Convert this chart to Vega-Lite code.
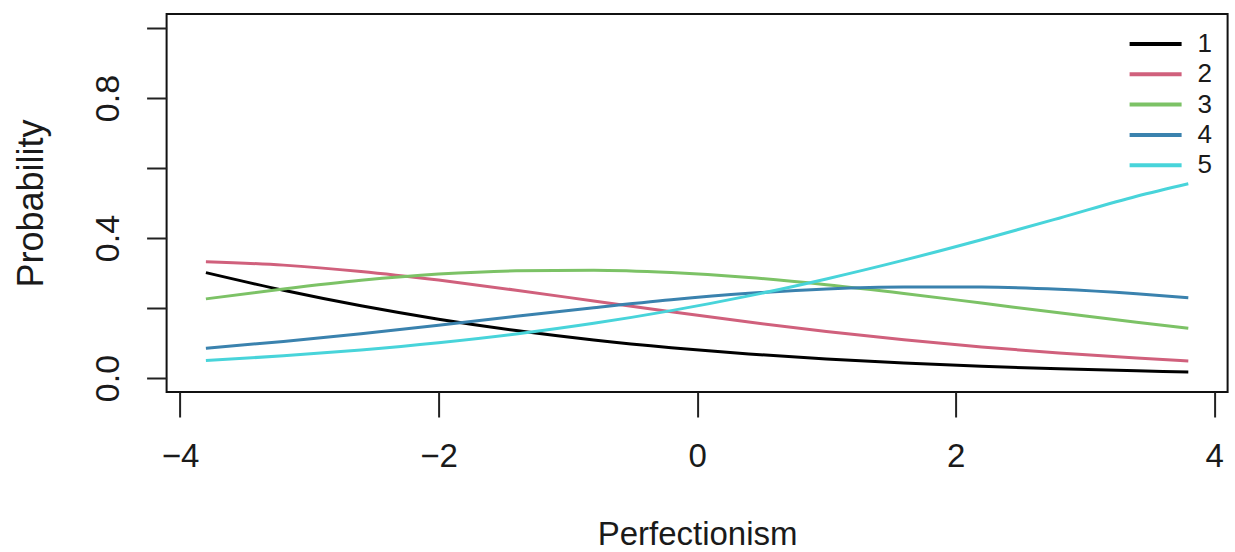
{
  "$schema": "https://vega.github.io/schema/vega-lite/v6.json",
  "width": 1061,
  "height": 378,
  "autosize": "none",
  "padding": {"left": 166.6, "top": 14, "right": 7.4, "bottom": 160},
  "background": "white",
  "config": {
    "view": {"stroke": "#111111", "strokeWidth": 2},
    "font": "Liberation Sans",
    "axis": {"grid": false, "domain": false, "tickColor": "#222222", "tickWidth": 2, "labelColor": "#1a1a1a", "titleColor": "#1a1a1a", "titleFontWeight": "normal"},
    "legend": {"padding": 0}
  },
  "data": {
    "values": [
      {"x": -3.8, "p": 0.301, "k": "1"}, {"x": -3.2, "p": 0.2505, "k": "1"}, {"x": -2.6, "p": 0.2062, "k": "1"}, {"x": -2.0, "p": 0.168, "k": "1"}, {"x": -1.4, "p": 0.1356, "k": "1"}, {"x": -0.8, "p": 0.1087, "k": "1"}, {"x": -0.2, "p": 0.0866, "k": "1"}, {"x": 0.4, "p": 0.0686, "k": "1"}, {"x": 1.0, "p": 0.0542, "k": "1"}, {"x": 1.6, "p": 0.0426, "k": "1"}, {"x": 2.2, "p": 0.0334, "k": "1"}, {"x": 2.8, "p": 0.0262, "k": "1"}, {"x": 3.4, "p": 0.0205, "k": "1"}, {"x": 3.8, "p": 0.0174, "k": "1"},
      {"x": -3.8, "p": 0.3325, "k": "2"}, {"x": -3.2, "p": 0.3225, "k": "2"}, {"x": -2.6, "p": 0.3043, "k": "2"}, {"x": -2.0, "p": 0.2797, "k": "2"}, {"x": -1.4, "p": 0.2509, "k": "2"}, {"x": -0.8, "p": 0.22, "k": "2"}, {"x": -0.2, "p": 0.1891, "k": "2"}, {"x": 0.4, "p": 0.1597, "k": "2"}, {"x": 1.0, "p": 0.1328, "k": "2"}, {"x": 1.6, "p": 0.109, "k": "2"}, {"x": 2.2, "p": 0.0886, "k": "2"}, {"x": 2.8, "p": 0.0712, "k": "2"}, {"x": 3.4, "p": 0.0569, "k": "2"}, {"x": 3.8, "p": 0.0488, "k": "2"},
      {"x": -3.8, "p": 0.2261, "k": "3"}, {"x": -3.2, "p": 0.2543, "k": "3"}, {"x": -2.6, "p": 0.279, "k": "3"}, {"x": -2.0, "p": 0.2969, "k": "3"}, {"x": -1.4, "p": 0.3063, "k": "3"}, {"x": -0.8, "p": 0.3081, "k": "3"}, {"x": -0.2, "p": 0.3012, "k": "3"}, {"x": 0.4, "p": 0.2872, "k": "3"}, {"x": 1.0, "p": 0.2666, "k": "3"}, {"x": 1.6, "p": 0.2417, "k": "3"}, {"x": 2.2, "p": 0.2141, "k": "3"}, {"x": 2.8, "p": 0.1863, "k": "3"}, {"x": 3.4, "p": 0.1594, "k": "3"}, {"x": 3.8, "p": 0.1421, "k": "3"},
      {"x": -3.8, "p": 0.085, "k": "4"}, {"x": -3.2, "p": 0.1044, "k": "4"}, {"x": -2.6, "p": 0.1265, "k": "4"}, {"x": -2.0, "p": 0.1507, "k": "4"}, {"x": -1.4, "p": 0.1763, "k": "4"}, {"x": -0.8, "p": 0.2009, "k": "4"}, {"x": -0.2, "p": 0.2236, "k": "4"}, {"x": 0.4, "p": 0.2418, "k": "4"}, {"x": 1.0, "p": 0.2544, "k": "4"}, {"x": 1.6, "p": 0.26, "k": "4"}, {"x": 2.2, "p": 0.2598, "k": "4"}, {"x": 2.8, "p": 0.2537, "k": "4"}, {"x": 3.4, "p": 0.2407, "k": "4"}, {"x": 3.8, "p": 0.229, "k": "4"},
      {"x": -3.8, "p": 0.0499, "k": "5"}, {"x": -3.2, "p": 0.0633, "k": "5"}, {"x": -2.6, "p": 0.08, "k": "5"}, {"x": -2.0, "p": 0.1007, "k": "5"}, {"x": -1.4, "p": 0.1259, "k": "5"}, {"x": -0.8, "p": 0.1563, "k": "5"}, {"x": -0.2, "p": 0.1925, "k": "5"}, {"x": 0.4, "p": 0.2347, "k": "5"}, {"x": 1.0, "p": 0.283, "k": "5"}, {"x": 1.6, "p": 0.3367, "k": "5"}, {"x": 2.2, "p": 0.3951, "k": "5"}, {"x": 2.8, "p": 0.4566, "k": "5"}, {"x": 3.4, "p": 0.5195, "k": "5"}, {"x": 3.8, "p": 0.5552, "k": "5"}
    ]
  },
  "mark": {"type": "line", "strokeWidth": 3, "interpolate": "monotone"},
  "encoding": {
    "x": {
      "field": "x", "type": "quantitative",
      "scale": {"domain": [-4.104, 4.104], "nice": false, "zero": false},
      "axis": {"values": [-4, -2, 0, 2, 4], "format": "d", "tickSize": 25, "labelFontSize": 33, "labelPadding": 23, "labelFlush": false, "labelOverlap": false,
        "title": "Perfectionism", "titleFontSize": 33, "titleBaseline": "alphabetic", "titleY": 152}
    },
    "y": {
      "field": "p", "type": "quantitative",
      "scale": {"domain": [-0.04, 1.04], "nice": false, "zero": false},
      "axis": {"values": [0, 0.2, 0.4, 0.6, 0.8, 1], "tickSize": 20, "labelAngle": -90, "labelAlign": "center", "labelBaseline": "alphabetic", "labelFontSize": 34, "labelPadding": 28, "labelFlush": false, "labelOverlap": false,
        "labelExpr": "datum.value === 0 ? '0.0' : datum.value === 0.4 ? '0.4' : datum.value === 0.8 ? '0.8' : ''",
        "title": "Probability", "titleFontSize": 36, "titleAngle": 270, "titleAlign": "center", "titleBaseline": "alphabetic", "titleX": -124, "titleY": 189}
    },
    "color": {
      "field": "k", "type": "nominal",
      "scale": {"domain": ["1", "2", "3", "4", "5"], "range": ["#000000", "#D0607C", "#7CC266", "#3A82AE", "#48D4DA"]},
      "legend": {"title": null, "orient": "none", "legendX": 961, "legendY": 15, "symbolType": "stroke", "symbolSize": 2704, "symbolStrokeWidth": 4, "clipHeight": 30, "labelFontSize": 26, "labelOffset": 14, "rowPadding": 0.3, "labelColor": "#1a1a1a"}
    }
  }
}
